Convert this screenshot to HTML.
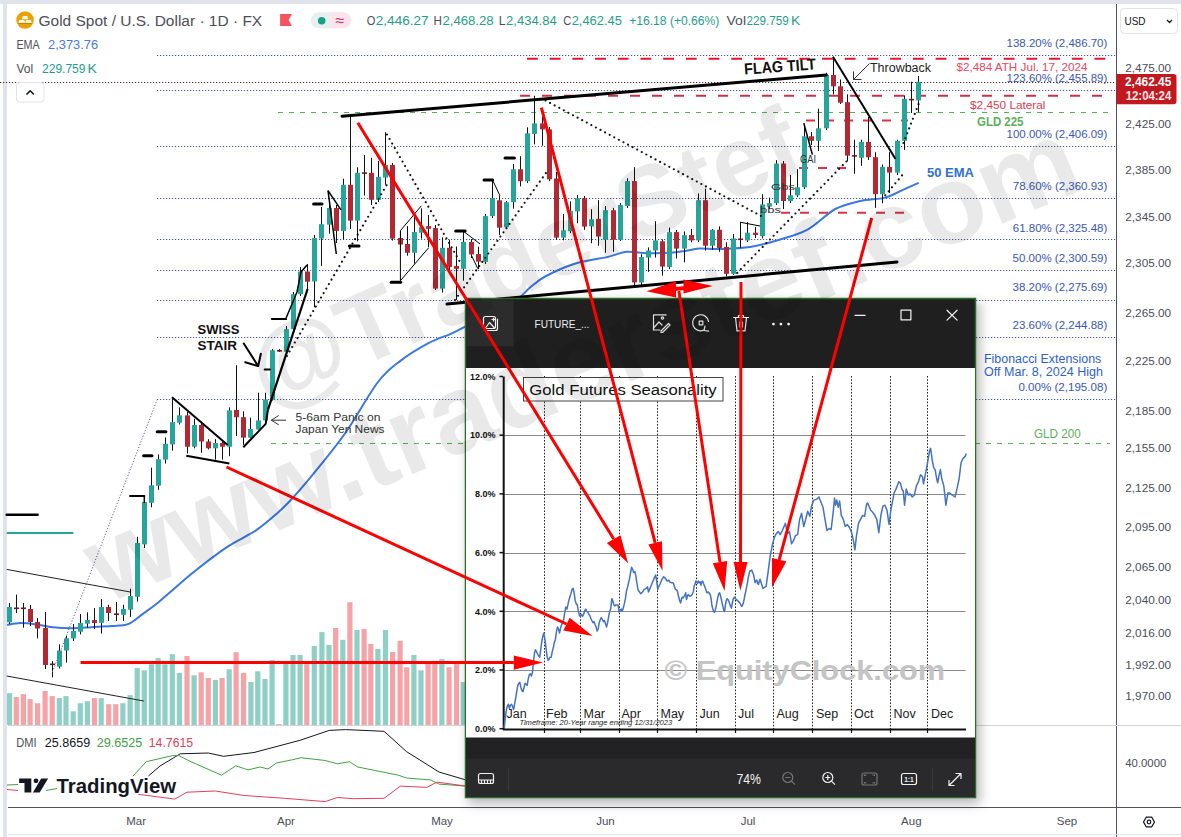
<!DOCTYPE html><html><head><meta charset="utf-8"><style>html,body{margin:0;padding:0;background:#fff;overflow:hidden}svg{display:block}text{font-family:"Liberation Sans", sans-serif}</style></head><body>
<svg width="1181" height="837" viewBox="0 0 1181 837">
<rect x="0" y="0" width="1181" height="837" fill="#fff"/>
<rect x="0" y="0" width="1181" height="4" fill="#e0e3eb"/>
<rect x="3" y="0" width="4" height="837" fill="#e0e3eb"/>
<line x1="157.0" y1="55.5" x2="1116.0" y2="55.5" stroke="#40569c" stroke-width="1" stroke-dasharray="1.2 1.8" />
<line x1="157.0" y1="90.5" x2="1116.0" y2="90.5" stroke="#40569c" stroke-width="1" stroke-dasharray="1.2 1.8" />
<line x1="157.0" y1="146.5" x2="1116.0" y2="146.5" stroke="#40569c" stroke-width="1" stroke-dasharray="1.2 1.8" />
<line x1="157.0" y1="198.5" x2="1116.0" y2="198.5" stroke="#40569c" stroke-width="1" stroke-dasharray="1.2 1.8" />
<line x1="157.0" y1="239.5" x2="1116.0" y2="239.5" stroke="#40569c" stroke-width="1" stroke-dasharray="1.2 1.8" />
<line x1="157.0" y1="270.5" x2="1116.0" y2="270.5" stroke="#40569c" stroke-width="1" stroke-dasharray="1.2 1.8" />
<line x1="157.0" y1="300.5" x2="1116.0" y2="300.5" stroke="#40569c" stroke-width="1" stroke-dasharray="1.2 1.8" />
<line x1="157.0" y1="337.5" x2="1116.0" y2="337.5" stroke="#40569c" stroke-width="1" stroke-dasharray="1.2 1.8" />
<line x1="157.0" y1="399.5" x2="1116.0" y2="399.5" stroke="#40569c" stroke-width="1" stroke-dasharray="1.2 1.8" />
<line x1="0.0" y1="82.5" x2="1116.0" y2="82.5" stroke="#3a2828" stroke-width="1" stroke-dasharray="1.2 1.8" />
<line x1="527.0" y1="58.8" x2="1110.0" y2="58.8" stroke="#e8142e" stroke-width="2" stroke-dasharray="10.8 11.9" />
<line x1="520.0" y1="95.7" x2="1110.0" y2="95.7" stroke="#c8324a" stroke-width="2" stroke-dasharray="10 12" />
<line x1="278.0" y1="112.5" x2="1110.0" y2="112.5" stroke="#5cad5c" stroke-width="1" stroke-dasharray="5 6" />
<line x1="271.0" y1="443.5" x2="1110.0" y2="443.5" stroke="#5cad5c" stroke-width="1" stroke-dasharray="5 6" />
<line x1="806.0" y1="120.4" x2="908.0" y2="120.4" stroke="#e03048" stroke-width="2" stroke-dasharray="9 10" />
<line x1="799.0" y1="168.0" x2="850.0" y2="168.0" stroke="#e03048" stroke-width="2" stroke-dasharray="9 10" />
<line x1="781.0" y1="212.8" x2="904.0" y2="212.8" stroke="#e03048" stroke-width="2" stroke-dasharray="9 10" />
<rect x="7.0" y="693.2" width="5.2" height="31.8" fill="#8fd0c6"/>
<rect x="13.7" y="697.1" width="5.2" height="27.9" fill="#f5a3a6"/>
<rect x="20.8" y="694.2" width="5.2" height="30.8" fill="#f5a3a6"/>
<rect x="27.5" y="699.1" width="5.2" height="25.9" fill="#f5a3a6"/>
<rect x="35.0" y="703.2" width="5.2" height="21.8" fill="#f5a3a6"/>
<rect x="42.5" y="691.0" width="5.2" height="34.0" fill="#f5a3a6"/>
<rect x="49.6" y="696.1" width="5.2" height="28.9" fill="#f5a3a6"/>
<rect x="56.7" y="698.1" width="5.2" height="26.9" fill="#8fd0c6"/>
<rect x="63.4" y="696.1" width="5.2" height="28.9" fill="#8fd0c6"/>
<rect x="70.6" y="711.3" width="5.2" height="13.7" fill="#8fd0c6"/>
<rect x="77.7" y="703.2" width="5.2" height="21.8" fill="#8fd0c6"/>
<rect x="84.8" y="701.2" width="5.2" height="23.8" fill="#8fd0c6"/>
<rect x="91.9" y="698.1" width="5.2" height="26.9" fill="#f5a3a6"/>
<rect x="98.6" y="698.1" width="5.2" height="26.9" fill="#8fd0c6"/>
<rect x="106.1" y="704.2" width="5.2" height="20.8" fill="#f5a3a6"/>
<rect x="113.2" y="704.2" width="5.2" height="20.8" fill="#f5a3a6"/>
<rect x="120.3" y="703.2" width="5.2" height="21.8" fill="#8fd0c6"/>
<rect x="127.5" y="695.1" width="5.2" height="29.9" fill="#8fd0c6"/>
<rect x="134.6" y="668.0" width="5.2" height="57.0" fill="#8fd0c6"/>
<rect x="141.7" y="670.3" width="5.2" height="54.7" fill="#8fd0c6"/>
<rect x="148.8" y="664.2" width="5.2" height="60.8" fill="#8fd0c6"/>
<rect x="155.5" y="658.1" width="5.2" height="66.9" fill="#8fd0c6"/>
<rect x="162.4" y="664.2" width="5.2" height="60.8" fill="#8fd0c6"/>
<rect x="169.7" y="654.2" width="5.2" height="70.8" fill="#8fd0c6"/>
<rect x="176.8" y="672.9" width="5.2" height="52.1" fill="#8fd0c6"/>
<rect x="184.4" y="656.0" width="5.2" height="69.0" fill="#f5a3a6"/>
<rect x="191.5" y="675.3" width="5.2" height="49.7" fill="#8fd0c6"/>
<rect x="198.6" y="672.3" width="5.2" height="52.7" fill="#f5a3a6"/>
<rect x="205.7" y="678.0" width="5.2" height="47.0" fill="#f5a3a6"/>
<rect x="212.8" y="680.0" width="5.2" height="45.0" fill="#8fd0c6"/>
<rect x="219.5" y="678.0" width="5.2" height="47.0" fill="#f5a3a6"/>
<rect x="226.6" y="669.3" width="5.2" height="55.7" fill="#8fd0c6"/>
<rect x="233.5" y="652.2" width="5.2" height="72.8" fill="#f5a3a6"/>
<rect x="241.0" y="672.9" width="5.2" height="52.1" fill="#f5a3a6"/>
<rect x="248.3" y="682.0" width="5.2" height="43.0" fill="#8fd0c6"/>
<rect x="255.2" y="671.3" width="5.2" height="53.7" fill="#8fd0c6"/>
<rect x="262.4" y="679.0" width="5.2" height="46.0" fill="#8fd0c6"/>
<rect x="269.5" y="660.1" width="5.2" height="64.9" fill="#8fd0c6"/>
<rect x="276.2" y="724.1" width="5.2" height="0.9" fill="#f5a3a6"/>
<rect x="283.3" y="663.2" width="5.2" height="61.8" fill="#8fd0c6"/>
<rect x="290.4" y="655.0" width="5.2" height="70.0" fill="#8fd0c6"/>
<rect x="297.5" y="655.0" width="5.2" height="70.0" fill="#8fd0c6"/>
<rect x="304.2" y="664.2" width="5.2" height="60.8" fill="#f5a3a6"/>
<rect x="311.7" y="645.9" width="5.2" height="79.1" fill="#8fd0c6"/>
<rect x="319.3" y="632.1" width="5.2" height="92.9" fill="#8fd0c6"/>
<rect x="326.4" y="644.9" width="5.2" height="80.1" fill="#8fd0c6"/>
<rect x="333.1" y="628.0" width="5.2" height="97.0" fill="#f5a3a6"/>
<rect x="340.2" y="639.8" width="5.2" height="85.2" fill="#8fd0c6"/>
<rect x="347.3" y="602.2" width="5.2" height="122.8" fill="#f5a3a6"/>
<rect x="354.4" y="630.0" width="5.2" height="95.0" fill="#8fd0c6"/>
<rect x="361.5" y="629.0" width="5.2" height="96.0" fill="#f5a3a6"/>
<rect x="368.2" y="643.9" width="5.2" height="81.1" fill="#f5a3a6"/>
<rect x="375.3" y="648.9" width="5.2" height="76.1" fill="#8fd0c6"/>
<rect x="382.9" y="630.0" width="5.2" height="95.0" fill="#8fd0c6"/>
<rect x="390.0" y="652.0" width="5.2" height="73.0" fill="#f5a3a6"/>
<rect x="397.5" y="640.8" width="5.2" height="84.2" fill="#f5a3a6"/>
<rect x="404.2" y="667.2" width="5.2" height="57.8" fill="#f5a3a6"/>
<rect x="411.3" y="655.0" width="5.2" height="70.0" fill="#8fd0c6"/>
<rect x="418.4" y="670.3" width="5.2" height="54.7" fill="#8fd0c6"/>
<rect x="425.5" y="663.6" width="5.2" height="61.4" fill="#f5a3a6"/>
<rect x="432.2" y="663.6" width="5.2" height="61.4" fill="#f5a3a6"/>
<rect x="439.3" y="659.1" width="5.2" height="65.9" fill="#8fd0c6"/>
<rect x="446.5" y="667.2" width="5.2" height="57.8" fill="#f5a3a6"/>
<rect x="454.0" y="663.6" width="5.2" height="61.4" fill="#f5a3a6"/>
<rect x="460.7" y="682.0" width="5.2" height="43.0" fill="#8fd0c6"/>
<path d="M7.1,625.0 C9.3,624.7 15.4,623.2 20.3,623.1 C25.2,623.0 31.2,623.8 36.6,624.5 C42.0,625.2 47.0,626.6 52.8,627.2 C58.5,627.8 64.7,628.2 71.1,628.2 C77.5,628.2 84.6,627.6 91.4,627.2 C98.2,626.8 105.7,626.5 111.8,626.0 C117.9,625.5 122.9,626.0 128.0,624.1 C133.1,622.2 137.1,618.0 142.2,614.4 C147.3,610.8 153.4,606.3 158.5,602.2 C163.6,598.1 166.6,595.2 172.7,590.0 C178.8,584.8 185.8,578.2 195.0,571.0 C204.2,563.8 217.4,553.5 227.6,546.7 C237.8,539.9 247.9,535.9 256.0,530.4 C264.1,524.9 270.3,519.4 276.4,514.0 C282.5,508.6 285.9,505.4 292.7,498.0 C299.5,490.6 308.2,480.3 317.0,469.4 C325.8,458.5 335.3,447.4 345.5,432.8 C355.7,418.2 368.8,394.0 378.0,382.0 C387.2,370.0 392.1,367.2 400.7,360.6 C409.3,354.1 421.0,347.2 429.4,342.7 C437.8,338.2 444.9,336.5 450.9,333.8 C456.9,331.1 458.7,330.1 465.2,326.6 C471.7,323.1 481.5,317.4 490.0,313.0 C498.5,308.6 509.7,304.2 516.4,300.0 C523.1,295.8 525.2,291.4 530.0,287.5 C534.8,283.6 537.9,280.4 545.2,276.5 C552.5,272.6 563.4,267.3 574.0,264.0 C584.6,260.7 600.4,258.6 609.1,256.6 C617.8,254.6 619.9,252.4 626.3,251.8 C632.7,251.2 640.1,253.0 647.4,253.2 C654.7,253.4 663.9,253.2 670.3,252.8 C676.7,252.4 680.8,251.6 685.6,250.9 C690.4,250.2 693.3,248.9 699.0,248.6 C704.7,248.3 711.5,249.3 720.0,249.0 C728.5,248.7 740.2,248.5 750.0,247.0 C759.8,245.5 768.9,242.9 778.6,240.0 C788.3,237.1 798.5,234.5 808.0,229.3 C817.5,224.1 826.6,213.7 835.3,209.0 C844.0,204.3 852.0,202.9 860.3,201.0 C868.6,199.1 878.1,199.5 885.3,197.6 C892.5,195.7 897.9,192.1 903.5,189.6 C909.1,187.1 916.2,183.9 918.7,182.8" fill="none" stroke="#3a78e0" stroke-width="2" stroke-linejoin="round"/>
<line x1="9.5" y1="603.0" x2="9.5" y2="624.0" stroke="#111" stroke-width="1" />
<rect x="7.0" y="607.0" width="5" height="15.3" fill="#26a69a"/>
<line x1="16.5" y1="594.6" x2="16.5" y2="613.0" stroke="#111" stroke-width="1" />
<rect x="14.0" y="607.5" width="5" height="1.6" fill="#6a1a20"/>
<line x1="23.5" y1="603.0" x2="23.5" y2="627.7" stroke="#111" stroke-width="1" />
<rect x="21.0" y="607.5" width="5" height="1.6" fill="#6a1a20"/>
<line x1="30.5" y1="605.0" x2="30.5" y2="626.0" stroke="#111" stroke-width="1" />
<rect x="28.0" y="609.0" width="5" height="13.0" fill="#b22833"/>
<line x1="37.5" y1="618.0" x2="37.5" y2="638.4" stroke="#111" stroke-width="1" />
<rect x="35.0" y="622.0" width="5" height="6.5" fill="#b22833"/>
<line x1="45.5" y1="612.0" x2="45.5" y2="669.0" stroke="#111" stroke-width="1" />
<rect x="43.0" y="628.0" width="5" height="37.0" fill="#b22833"/>
<line x1="52.5" y1="661.0" x2="52.5" y2="677.4" stroke="#111" stroke-width="1" />
<rect x="50.0" y="663.5" width="5" height="1.6" fill="#6a1a20"/>
<line x1="59.5" y1="644.4" x2="59.5" y2="668.5" stroke="#111" stroke-width="1" />
<rect x="57.0" y="650.5" width="5" height="16.2" fill="#26a69a"/>
<line x1="66.5" y1="635.8" x2="66.5" y2="662.6" stroke="#111" stroke-width="1" />
<rect x="64.0" y="638.4" width="5" height="12.1" fill="#26a69a"/>
<line x1="73.5" y1="624.0" x2="73.5" y2="641.0" stroke="#111" stroke-width="1" />
<rect x="71.0" y="631.0" width="5" height="7.4" fill="#26a69a"/>
<line x1="80.5" y1="614.0" x2="80.5" y2="634.4" stroke="#111" stroke-width="1" />
<rect x="78.0" y="623.0" width="5" height="8.7" fill="#26a69a"/>
<line x1="87.5" y1="612.4" x2="87.5" y2="627.7" stroke="#111" stroke-width="1" />
<rect x="85.0" y="620.0" width="5" height="3.7" fill="#26a69a"/>
<line x1="94.5" y1="608.0" x2="94.5" y2="629.0" stroke="#111" stroke-width="1" />
<rect x="92.0" y="620.0" width="5" height="3.0" fill="#b22833"/>
<line x1="101.5" y1="599.0" x2="101.5" y2="633.6" stroke="#111" stroke-width="1" />
<rect x="99.0" y="607.0" width="5" height="15.8" fill="#26a69a"/>
<line x1="108.5" y1="604.8" x2="108.5" y2="621.0" stroke="#111" stroke-width="1" />
<rect x="106.0" y="607.0" width="5" height="6.0" fill="#b22833"/>
<line x1="116.5" y1="602.0" x2="116.5" y2="621.0" stroke="#111" stroke-width="1" />
<rect x="114.0" y="613.4" width="5" height="1.6" fill="#6a1a20"/>
<line x1="123.5" y1="604.8" x2="123.5" y2="621.0" stroke="#111" stroke-width="1" />
<rect x="121.0" y="609.0" width="5" height="5.8" fill="#26a69a"/>
<line x1="130.5" y1="588.7" x2="130.5" y2="617.0" stroke="#111" stroke-width="1" />
<rect x="128.0" y="596.0" width="5" height="13.7" fill="#26a69a"/>
<line x1="137.5" y1="536.8" x2="137.5" y2="601.6" stroke="#111" stroke-width="1" />
<rect x="135.0" y="543.0" width="5" height="53.8" fill="#26a69a"/>
<line x1="144.5" y1="501.0" x2="144.5" y2="548.0" stroke="#111" stroke-width="1" />
<rect x="142.0" y="502.0" width="5" height="42.4" fill="#26a69a"/>
<line x1="151.5" y1="467.6" x2="151.5" y2="507.3" stroke="#111" stroke-width="1" />
<rect x="149.0" y="485.3" width="5" height="17.5" fill="#26a69a"/>
<line x1="158.5" y1="454.4" x2="158.5" y2="489.8" stroke="#111" stroke-width="1" />
<rect x="156.0" y="459.2" width="5" height="26.5" fill="#26a69a"/>
<line x1="165.5" y1="437.4" x2="165.5" y2="463.5" stroke="#111" stroke-width="1" />
<rect x="163.0" y="443.8" width="5" height="15.8" fill="#26a69a"/>
<line x1="172.5" y1="397.2" x2="172.5" y2="450.6" stroke="#111" stroke-width="1" />
<rect x="170.0" y="422.2" width="5" height="22.2" fill="#26a69a"/>
<line x1="179.5" y1="407.4" x2="179.5" y2="424.5" stroke="#111" stroke-width="1" />
<rect x="177.0" y="415.4" width="5" height="7.3" fill="#26a69a"/>
<line x1="187.5" y1="412.0" x2="187.5" y2="453.5" stroke="#111" stroke-width="1" />
<rect x="185.0" y="415.4" width="5" height="31.3" fill="#b22833"/>
<line x1="194.5" y1="418.8" x2="194.5" y2="448.3" stroke="#111" stroke-width="1" />
<rect x="192.0" y="425.0" width="5" height="21.7" fill="#26a69a"/>
<line x1="201.5" y1="423.3" x2="201.5" y2="452.8" stroke="#111" stroke-width="1" />
<rect x="199.0" y="425.0" width="5" height="16.5" fill="#b22833"/>
<line x1="208.5" y1="439.2" x2="208.5" y2="449.4" stroke="#111" stroke-width="1" />
<rect x="206.0" y="441.5" width="5" height="6.8" fill="#b22833"/>
<line x1="215.5" y1="439.2" x2="215.5" y2="459.6" stroke="#111" stroke-width="1" />
<rect x="213.0" y="443.0" width="5" height="5.3" fill="#26a69a"/>
<line x1="222.5" y1="441.5" x2="222.5" y2="459.6" stroke="#111" stroke-width="1" />
<rect x="220.0" y="443.0" width="5" height="3.7" fill="#b22833"/>
<line x1="229.5" y1="407.4" x2="229.5" y2="456.2" stroke="#111" stroke-width="1" />
<rect x="227.0" y="410.4" width="5" height="36.3" fill="#26a69a"/>
<line x1="236.5" y1="365.2" x2="236.5" y2="436.0" stroke="#111" stroke-width="1" />
<rect x="234.0" y="410.0" width="5" height="7.3" fill="#b22833"/>
<line x1="243.5" y1="411.3" x2="243.5" y2="444.9" stroke="#111" stroke-width="1" />
<rect x="241.0" y="417.2" width="5" height="20.4" fill="#b22833"/>
<line x1="250.5" y1="417.7" x2="250.5" y2="438.0" stroke="#111" stroke-width="1" />
<rect x="248.0" y="429.0" width="5" height="8.6" fill="#26a69a"/>
<line x1="258.5" y1="392.7" x2="258.5" y2="429.5" stroke="#111" stroke-width="1" />
<rect x="256.0" y="420.4" width="5" height="9.1" fill="#26a69a"/>
<line x1="265.5" y1="392.7" x2="265.5" y2="423.3" stroke="#111" stroke-width="1" />
<rect x="263.0" y="399.5" width="5" height="20.9" fill="#26a69a"/>
<line x1="272.5" y1="349.0" x2="272.5" y2="400.5" stroke="#111" stroke-width="1" />
<rect x="270.0" y="350.3" width="5" height="49.4" fill="#26a69a"/>
<line x1="279.5" y1="349.0" x2="279.5" y2="352.0" stroke="#111" stroke-width="1" />
<rect x="277.0" y="350.0" width="5" height="1.6" fill="#6a1a20"/>
<line x1="286.5" y1="326.0" x2="286.5" y2="356.0" stroke="#111" stroke-width="1" />
<rect x="284.0" y="329.2" width="5" height="22.7" fill="#26a69a"/>
<line x1="293.5" y1="292.0" x2="293.5" y2="331.0" stroke="#111" stroke-width="1" />
<rect x="291.0" y="294.2" width="5" height="35.0" fill="#26a69a"/>
<line x1="300.5" y1="267.0" x2="300.5" y2="296.0" stroke="#111" stroke-width="1" />
<rect x="298.0" y="271.5" width="5" height="22.7" fill="#26a69a"/>
<line x1="307.5" y1="264.0" x2="307.5" y2="290.0" stroke="#111" stroke-width="1" />
<rect x="305.0" y="271.5" width="5" height="10.2" fill="#b22833"/>
<line x1="314.5" y1="235.0" x2="314.5" y2="307.2" stroke="#111" stroke-width="1" />
<rect x="312.0" y="238.0" width="5" height="43.5" fill="#26a69a"/>
<line x1="321.5" y1="207.0" x2="321.5" y2="266.0" stroke="#111" stroke-width="1" />
<rect x="319.0" y="224.2" width="5" height="14.3" fill="#26a69a"/>
<line x1="329.5" y1="201.5" x2="329.5" y2="233.7" stroke="#111" stroke-width="1" />
<rect x="327.0" y="208.0" width="5" height="16.7" fill="#26a69a"/>
<line x1="336.5" y1="205.0" x2="336.5" y2="243.0" stroke="#111" stroke-width="1" />
<rect x="334.0" y="208.0" width="5" height="22.9" fill="#b22833"/>
<line x1="343.5" y1="178.8" x2="343.5" y2="239.7" stroke="#111" stroke-width="1" />
<rect x="341.0" y="184.8" width="5" height="46.1" fill="#26a69a"/>
<line x1="350.5" y1="116.7" x2="350.5" y2="229.0" stroke="#111" stroke-width="1" />
<rect x="348.0" y="184.8" width="5" height="35.8" fill="#b22833"/>
<line x1="357.5" y1="167.3" x2="357.5" y2="241.4" stroke="#111" stroke-width="1" />
<rect x="355.0" y="172.8" width="5" height="47.8" fill="#26a69a"/>
<line x1="364.5" y1="155.0" x2="364.5" y2="195.5" stroke="#111" stroke-width="1" />
<rect x="362.0" y="172.3" width="5" height="1.6" fill="#6a1a20"/>
<line x1="371.5" y1="157.8" x2="371.5" y2="205.0" stroke="#111" stroke-width="1" />
<rect x="369.0" y="172.8" width="5" height="27.0" fill="#b22833"/>
<line x1="378.5" y1="161.0" x2="378.5" y2="202.0" stroke="#111" stroke-width="1" />
<rect x="376.0" y="176.9" width="5" height="22.9" fill="#26a69a"/>
<line x1="385.5" y1="132.2" x2="385.5" y2="184.8" stroke="#111" stroke-width="1" />
<rect x="383.0" y="165.0" width="5" height="12.6" fill="#26a69a"/>
<line x1="392.5" y1="163.0" x2="392.5" y2="240.6" stroke="#111" stroke-width="1" />
<rect x="390.0" y="165.0" width="5" height="73.6" fill="#b22833"/>
<line x1="400.5" y1="230.7" x2="400.5" y2="250.0" stroke="#111" stroke-width="1" />
<rect x="398.0" y="238.0" width="5" height="6.5" fill="#b22833"/>
<line x1="407.5" y1="226.1" x2="407.5" y2="255.7" stroke="#111" stroke-width="1" />
<rect x="405.0" y="243.9" width="5" height="8.9" fill="#b22833"/>
<line x1="414.5" y1="217.0" x2="414.5" y2="263.6" stroke="#111" stroke-width="1" />
<rect x="412.0" y="232.0" width="5" height="20.8" fill="#26a69a"/>
<line x1="421.5" y1="208.4" x2="421.5" y2="238.6" stroke="#111" stroke-width="1" />
<rect x="419.0" y="227.2" width="5" height="5.5" fill="#26a69a"/>
<line x1="428.5" y1="215.0" x2="428.5" y2="247.2" stroke="#111" stroke-width="1" />
<rect x="426.0" y="226.1" width="5" height="2.7" fill="#b22833"/>
<line x1="435.5" y1="225.0" x2="435.5" y2="290.0" stroke="#111" stroke-width="1" />
<rect x="433.0" y="228.1" width="5" height="60.5" fill="#b22833"/>
<line x1="442.5" y1="237.3" x2="442.5" y2="292.5" stroke="#111" stroke-width="1" />
<rect x="440.0" y="247.8" width="5" height="40.8" fill="#26a69a"/>
<line x1="449.5" y1="239.7" x2="449.5" y2="270.0" stroke="#111" stroke-width="1" />
<rect x="447.0" y="247.8" width="5" height="19.1" fill="#b22833"/>
<line x1="456.5" y1="246.5" x2="456.5" y2="300.0" stroke="#111" stroke-width="1" />
<rect x="454.0" y="266.0" width="5" height="2.8" fill="#b22833"/>
<line x1="463.5" y1="232.0" x2="463.5" y2="280.7" stroke="#111" stroke-width="1" />
<rect x="461.0" y="241.9" width="5" height="26.9" fill="#26a69a"/>
<line x1="471.5" y1="239.0" x2="471.5" y2="258.0" stroke="#111" stroke-width="1" />
<rect x="469.0" y="241.9" width="5" height="12.5" fill="#b22833"/>
<line x1="478.5" y1="246.8" x2="478.5" y2="269.2" stroke="#111" stroke-width="1" />
<rect x="476.0" y="254.1" width="5" height="7.5" fill="#b22833"/>
<line x1="485.5" y1="214.0" x2="485.5" y2="264.0" stroke="#111" stroke-width="1" />
<rect x="483.0" y="216.1" width="5" height="45.7" fill="#26a69a"/>
<line x1="492.5" y1="179.8" x2="492.5" y2="218.0" stroke="#111" stroke-width="1" />
<rect x="490.0" y="198.2" width="5" height="17.9" fill="#26a69a"/>
<line x1="499.5" y1="195.6" x2="499.5" y2="235.0" stroke="#111" stroke-width="1" />
<rect x="497.0" y="200.3" width="5" height="27.4" fill="#b22833"/>
<line x1="506.5" y1="201.0" x2="506.5" y2="229.0" stroke="#111" stroke-width="1" />
<rect x="504.0" y="202.2" width="5" height="24.9" fill="#26a69a"/>
<line x1="513.5" y1="164.0" x2="513.5" y2="208.7" stroke="#111" stroke-width="1" />
<rect x="511.0" y="169.3" width="5" height="32.9" fill="#26a69a"/>
<line x1="520.5" y1="156.2" x2="520.5" y2="186.4" stroke="#111" stroke-width="1" />
<rect x="518.0" y="169.3" width="5" height="11.9" fill="#b22833"/>
<line x1="527.5" y1="127.3" x2="527.5" y2="183.0" stroke="#111" stroke-width="1" />
<rect x="525.0" y="133.3" width="5" height="47.9" fill="#26a69a"/>
<line x1="534.5" y1="95.8" x2="534.5" y2="144.4" stroke="#111" stroke-width="1" />
<rect x="532.0" y="123.4" width="5" height="10.5" fill="#26a69a"/>
<line x1="542.5" y1="116.8" x2="542.5" y2="145.7" stroke="#111" stroke-width="1" />
<rect x="540.0" y="123.4" width="5" height="6.0" fill="#b22833"/>
<line x1="549.5" y1="127.0" x2="549.5" y2="181.2" stroke="#111" stroke-width="1" />
<rect x="547.0" y="129.4" width="5" height="49.9" fill="#b22833"/>
<line x1="556.5" y1="172.0" x2="556.5" y2="240.0" stroke="#111" stroke-width="1" />
<rect x="554.0" y="178.5" width="5" height="59.1" fill="#b22833"/>
<line x1="563.5" y1="214.0" x2="563.5" y2="240.3" stroke="#111" stroke-width="1" />
<rect x="561.0" y="230.3" width="5" height="7.3" fill="#26a69a"/>
<line x1="570.5" y1="201.4" x2="570.5" y2="233.0" stroke="#111" stroke-width="1" />
<rect x="568.0" y="210.8" width="5" height="20.3" fill="#26a69a"/>
<line x1="577.5" y1="195.0" x2="577.5" y2="223.2" stroke="#111" stroke-width="1" />
<rect x="575.0" y="198.2" width="5" height="13.2" fill="#26a69a"/>
<line x1="584.5" y1="196.0" x2="584.5" y2="229.8" stroke="#111" stroke-width="1" />
<rect x="582.0" y="198.2" width="5" height="28.4" fill="#b22833"/>
<line x1="591.5" y1="209.2" x2="591.5" y2="243.2" stroke="#111" stroke-width="1" />
<rect x="589.0" y="219.3" width="5" height="7.1" fill="#26a69a"/>
<line x1="598.5" y1="200.2" x2="598.5" y2="245.7" stroke="#111" stroke-width="1" />
<rect x="596.0" y="218.8" width="5" height="17.7" fill="#b22833"/>
<line x1="605.5" y1="206.0" x2="605.5" y2="252.8" stroke="#111" stroke-width="1" />
<rect x="603.0" y="210.2" width="5" height="29.6" fill="#26a69a"/>
<line x1="613.5" y1="207.9" x2="613.5" y2="251.8" stroke="#111" stroke-width="1" />
<rect x="611.0" y="210.2" width="5" height="29.6" fill="#b22833"/>
<line x1="620.5" y1="203.0" x2="620.5" y2="241.0" stroke="#111" stroke-width="1" />
<rect x="618.0" y="205.0" width="5" height="34.8" fill="#26a69a"/>
<line x1="627.5" y1="178.2" x2="627.5" y2="208.0" stroke="#111" stroke-width="1" />
<rect x="625.0" y="181.1" width="5" height="24.9" fill="#26a69a"/>
<line x1="634.5" y1="167.1" x2="634.5" y2="285.3" stroke="#111" stroke-width="1" />
<rect x="632.0" y="181.1" width="5" height="101.3" fill="#b22833"/>
<line x1="641.5" y1="254.3" x2="641.5" y2="285.3" stroke="#111" stroke-width="1" />
<rect x="639.0" y="257.0" width="5" height="25.4" fill="#26a69a"/>
<line x1="648.5" y1="247.4" x2="648.5" y2="271.9" stroke="#111" stroke-width="1" />
<rect x="646.0" y="250.5" width="5" height="7.1" fill="#26a69a"/>
<line x1="655.5" y1="221.2" x2="655.5" y2="257.6" stroke="#111" stroke-width="1" />
<rect x="653.0" y="240.4" width="5" height="10.1" fill="#26a69a"/>
<line x1="662.5" y1="239.4" x2="662.5" y2="275.7" stroke="#111" stroke-width="1" />
<rect x="660.0" y="241.3" width="5" height="25.3" fill="#b22833"/>
<line x1="669.5" y1="227.6" x2="669.5" y2="269.0" stroke="#111" stroke-width="1" />
<rect x="667.0" y="232.1" width="5" height="35.0" fill="#26a69a"/>
<line x1="676.5" y1="230.0" x2="676.5" y2="258.5" stroke="#111" stroke-width="1" />
<rect x="674.0" y="232.1" width="5" height="16.5" fill="#b22833"/>
<line x1="684.5" y1="231.4" x2="684.5" y2="262.3" stroke="#111" stroke-width="1" />
<rect x="682.0" y="235.2" width="5" height="13.4" fill="#26a69a"/>
<line x1="691.5" y1="228.9" x2="691.5" y2="242.3" stroke="#111" stroke-width="1" />
<rect x="689.0" y="235.0" width="5" height="5.4" fill="#b22833"/>
<line x1="698.5" y1="193.5" x2="698.5" y2="242.0" stroke="#111" stroke-width="1" />
<rect x="696.0" y="200.2" width="5" height="40.2" fill="#26a69a"/>
<line x1="705.5" y1="188.7" x2="705.5" y2="250.5" stroke="#111" stroke-width="1" />
<rect x="703.0" y="200.2" width="5" height="45.5" fill="#b22833"/>
<line x1="712.5" y1="228.9" x2="712.5" y2="249.9" stroke="#111" stroke-width="1" />
<rect x="710.0" y="229.8" width="5" height="15.9" fill="#26a69a"/>
<line x1="719.5" y1="226.4" x2="719.5" y2="251.8" stroke="#111" stroke-width="1" />
<rect x="717.0" y="229.8" width="5" height="18.2" fill="#b22833"/>
<line x1="726.5" y1="242.3" x2="726.5" y2="276.1" stroke="#111" stroke-width="1" />
<rect x="724.0" y="247.0" width="5" height="26.8" fill="#b22833"/>
<line x1="733.5" y1="234.0" x2="733.5" y2="274.8" stroke="#111" stroke-width="1" />
<rect x="731.0" y="238.5" width="5" height="35.3" fill="#26a69a"/>
<line x1="740.5" y1="222.2" x2="740.5" y2="248.0" stroke="#111" stroke-width="1" />
<rect x="738.0" y="238.5" width="5" height="1.6" fill="#6a1a20"/>
<line x1="747.5" y1="222.0" x2="747.5" y2="242.0" stroke="#111" stroke-width="1" />
<rect x="745.0" y="232.7" width="5" height="7.7" fill="#26a69a"/>
<line x1="755.5" y1="227.0" x2="755.5" y2="238.0" stroke="#111" stroke-width="1" />
<rect x="753.0" y="232.7" width="5" height="2.3" fill="#b22833"/>
<line x1="762.5" y1="194.2" x2="762.5" y2="238.4" stroke="#111" stroke-width="1" />
<rect x="760.0" y="204.4" width="5" height="31.8" fill="#26a69a"/>
<line x1="769.5" y1="197.6" x2="769.5" y2="209.0" stroke="#111" stroke-width="1" />
<rect x="767.0" y="203.2" width="5" height="3.4" fill="#26a69a"/>
<line x1="776.5" y1="160.1" x2="776.5" y2="205.0" stroke="#111" stroke-width="1" />
<rect x="774.0" y="163.5" width="5" height="39.7" fill="#26a69a"/>
<line x1="783.5" y1="161.0" x2="783.5" y2="209.0" stroke="#111" stroke-width="1" />
<rect x="781.0" y="163.5" width="5" height="37.5" fill="#b22833"/>
<line x1="790.5" y1="174.9" x2="790.5" y2="203.0" stroke="#111" stroke-width="1" />
<rect x="788.0" y="195.3" width="5" height="5.7" fill="#26a69a"/>
<line x1="797.5" y1="169.2" x2="797.5" y2="197.0" stroke="#111" stroke-width="1" />
<rect x="795.0" y="187.3" width="5" height="8.0" fill="#26a69a"/>
<line x1="804.5" y1="123.8" x2="804.5" y2="189.0" stroke="#111" stroke-width="1" />
<rect x="802.0" y="136.3" width="5" height="51.0" fill="#26a69a"/>
<line x1="811.5" y1="132.0" x2="811.5" y2="145.0" stroke="#111" stroke-width="1" />
<rect x="809.0" y="136.3" width="5" height="4.5" fill="#b22833"/>
<line x1="818.5" y1="108.6" x2="818.5" y2="151.0" stroke="#111" stroke-width="1" />
<rect x="816.0" y="128.3" width="5" height="12.5" fill="#26a69a"/>
<line x1="826.5" y1="72.7" x2="826.5" y2="130.0" stroke="#111" stroke-width="1" />
<rect x="824.0" y="75.0" width="5" height="53.3" fill="#26a69a"/>
<line x1="833.5" y1="56.8" x2="833.5" y2="94.3" stroke="#111" stroke-width="1" />
<rect x="831.0" y="75.0" width="5" height="11.3" fill="#b22833"/>
<line x1="840.5" y1="79.5" x2="840.5" y2="104.0" stroke="#111" stroke-width="1" />
<rect x="838.0" y="86.3" width="5" height="16.4" fill="#b22833"/>
<line x1="847.5" y1="94.3" x2="847.5" y2="161.2" stroke="#111" stroke-width="1" />
<rect x="845.0" y="102.2" width="5" height="53.4" fill="#b22833"/>
<line x1="854.5" y1="139.7" x2="854.5" y2="173.7" stroke="#111" stroke-width="1" />
<rect x="852.0" y="155.1" width="5" height="1.6" fill="#6a1a20"/>
<line x1="861.5" y1="139.7" x2="861.5" y2="165.8" stroke="#111" stroke-width="1" />
<rect x="859.0" y="141.9" width="5" height="15.9" fill="#26a69a"/>
<line x1="868.5" y1="117.0" x2="868.5" y2="160.0" stroke="#111" stroke-width="1" />
<rect x="866.0" y="141.9" width="5" height="15.3" fill="#b22833"/>
<line x1="875.5" y1="152.2" x2="875.5" y2="207.8" stroke="#111" stroke-width="1" />
<rect x="873.0" y="157.2" width="5" height="37.0" fill="#b22833"/>
<line x1="882.5" y1="164.6" x2="882.5" y2="203.2" stroke="#111" stroke-width="1" />
<rect x="880.0" y="166.9" width="5" height="27.3" fill="#26a69a"/>
<line x1="889.5" y1="152.2" x2="889.5" y2="193.0" stroke="#111" stroke-width="1" />
<rect x="887.0" y="166.9" width="5" height="5.7" fill="#b22833"/>
<line x1="897.5" y1="139.7" x2="897.5" y2="175.0" stroke="#111" stroke-width="1" />
<rect x="895.0" y="140.8" width="5" height="31.8" fill="#26a69a"/>
<line x1="904.5" y1="95.4" x2="904.5" y2="149.9" stroke="#111" stroke-width="1" />
<rect x="902.0" y="98.8" width="5" height="42.0" fill="#26a69a"/>
<line x1="911.5" y1="81.8" x2="911.5" y2="113.0" stroke="#111" stroke-width="1" />
<rect x="909.0" y="98.8" width="5" height="1.6" fill="#6a1a20"/>
<line x1="918.5" y1="76.1" x2="918.5" y2="112.4" stroke="#111" stroke-width="1" />
<rect x="916.0" y="81.8" width="5" height="18.6" fill="#26a69a"/>
<line x1="52.4" y1="672.0" x2="157.2" y2="399.5" stroke="#5a6890" stroke-width="1" stroke-dasharray="1.2 1.8" />
<line x1="287.0" y1="356.0" x2="389.0" y2="181.0" stroke="#111" stroke-width="2.2" stroke-linecap="round" stroke-dasharray="0 5.2"/>
<line x1="387.0" y1="134.5" x2="460.0" y2="262.0" stroke="#111" stroke-width="2.2" stroke-linecap="round" stroke-dasharray="0 5.2"/>
<line x1="455.0" y1="300.0" x2="547.7" y2="170.6" stroke="#111" stroke-width="2.2" stroke-linecap="round" stroke-dasharray="0 5.2"/>
<line x1="545.5" y1="100.5" x2="763.0" y2="217.0" stroke="#111" stroke-width="2.2" stroke-linecap="round" stroke-dasharray="0 5.2"/>
<line x1="737.2" y1="272.9" x2="846.7" y2="161.2" stroke="#111" stroke-width="2.2" stroke-linecap="round" stroke-dasharray="0 5.2"/>
<line x1="885.3" y1="195.3" x2="903.5" y2="173.7" stroke="#111" stroke-width="2.2" stroke-linecap="round" stroke-dasharray="0 5.2"/>
<line x1="903.5" y1="143.0" x2="919.3" y2="102.2" stroke="#111" stroke-width="2.2" stroke-linecap="round" stroke-dasharray="0 5.2"/>
<line x1="342.0" y1="116.2" x2="826.3" y2="75.0" stroke="#000" stroke-width="3" stroke-linecap="round"/>
<line x1="447.0" y1="304.0" x2="897.0" y2="262.0" stroke="#000" stroke-width="3" stroke-linecap="round"/>
<line x1="833.0" y1="56.8" x2="895.5" y2="159.0" stroke="#000" stroke-width="2" />
<line x1="172.0" y1="397.2" x2="227.6" y2="444.9" stroke="#000" stroke-width="2" />
<line x1="186.3" y1="455.8" x2="229.4" y2="463.5" stroke="#000" stroke-width="2" />
<polyline points="243.3,447.2 265.7,423.9 268.0,409.7" stroke="#000" stroke-width="2" fill="none" stroke-linejoin="round" />
<line x1="268.0" y1="409.7" x2="307.6" y2="289.0" stroke="#000" stroke-width="2.2" />
<polyline points="286.1,318.0 292.0,304.0 297.0,292.0 301.0,272.0 307.0,265.0" stroke="#000" stroke-width="1.5" fill="none" stroke-linejoin="round" />
<line x1="143.6" y1="455.8" x2="152.0" y2="455.8" stroke="#000" stroke-width="3" stroke-linecap="round"/>
<line x1="157.2" y1="431.7" x2="165.9" y2="431.7" stroke="#000" stroke-width="3" stroke-linecap="round"/>
<line x1="130.0" y1="496.0" x2="144.3" y2="496.0" stroke="#000" stroke-width="2" stroke-linecap="round"/>
<line x1="6.7" y1="514.8" x2="37.6" y2="514.8" stroke="#000" stroke-width="2.5" stroke-linecap="round"/>
<line x1="271.8" y1="319.0" x2="286.1" y2="319.0" stroke="#000" stroke-width="2" stroke-linecap="round"/>
<line x1="264.7" y1="369.5" x2="270.0" y2="369.5" stroke="#000" stroke-width="2" stroke-linecap="round"/>
<line x1="313.6" y1="203.9" x2="322.0" y2="203.9" stroke="#000" stroke-width="3" stroke-linecap="round"/>
<line x1="349.4" y1="246.1" x2="359.0" y2="246.1" stroke="#000" stroke-width="3" stroke-linecap="round"/>
<line x1="391.2" y1="282.2" x2="400.7" y2="282.2" stroke="#000" stroke-width="3" stroke-linecap="round"/>
<line x1="455.7" y1="231.0" x2="465.2" y2="231.0" stroke="#000" stroke-width="3" stroke-linecap="round"/>
<line x1="484.0" y1="180.1" x2="492.6" y2="180.1" stroke="#000" stroke-width="3" stroke-linecap="round"/>
<line x1="505.0" y1="158.0" x2="514.4" y2="158.0" stroke="#000" stroke-width="3" stroke-linecap="round"/>
<line x1="144.3" y1="496.0" x2="144.3" y2="503.0" stroke="#000" stroke-width="1.5" />
<polyline points="421.4,205.8 400.4,230.7 400.4,280.7 428.6,247.8" stroke="#000" stroke-width="1" fill="none" stroke-linejoin="round" />
<line x1="464.1" y1="231.8" x2="480.0" y2="243.9" stroke="#000" stroke-width="1" />
<line x1="471.6" y1="255.7" x2="477.9" y2="268.8" stroke="#000" stroke-width="1" />
<line x1="328.0" y1="190.7" x2="341.0" y2="209.9" stroke="#000" stroke-width="1.5" />
<line x1="328.0" y1="190.7" x2="336.3" y2="254.0" stroke="#000" stroke-width="1.5" />
<line x1="492.6" y1="180.1" x2="499.9" y2="195.6" stroke="#000" stroke-width="1" />
<line x1="740.0" y1="222.2" x2="760.0" y2="226.0" stroke="#000" stroke-width="1" />
<line x1="803.8" y1="123.1" x2="812.4" y2="154.6" stroke="#000" stroke-width="1.5" />
<line x1="6.7" y1="569.4" x2="130.4" y2="592.0" stroke="#222" stroke-width="1" />
<line x1="6.7" y1="676.0" x2="143.8" y2="701.0" stroke="#222" stroke-width="1" />
<line x1="6.7" y1="533.0" x2="73.4" y2="533.0" stroke="#26a69a" stroke-width="2" />
<text x="744.0" y="72.0" font-size="16" fill="#111" text-anchor="start" font-weight="bold" textLength="72.0" lengthAdjust="spacingAndGlyphs" transform="rotate(-4 780 66)">FLAG TILT</text>
<text x="870.0" y="72.0" font-size="12" fill="#222" text-anchor="start" font-weight="normal" textLength="61.0" lengthAdjust="spacingAndGlyphs" >Throwback</text>
<polyline points="869.4,63.6 853.5,79.5" stroke="#333" stroke-width="1" fill="none" stroke-linejoin="round" />
<polyline points="853.5,71.5 853.5,79.5 861.5,79.5" stroke="#333" stroke-width="1" fill="none" stroke-linejoin="round" />
<text x="197.5" y="334.0" font-size="13.5" fill="#111" text-anchor="start" font-weight="bold" textLength="42.0" lengthAdjust="spacingAndGlyphs" >SWISS</text>
<text x="197.5" y="350.0" font-size="13.5" fill="#111" text-anchor="start" font-weight="bold" textLength="39.5" lengthAdjust="spacingAndGlyphs" >STAIR</text>
<line x1="243.3" y1="342.8" x2="258.2" y2="366.1" stroke="#000" stroke-width="2" />
<polyline points="244.5,362.0 258.2,366.1 261.0,353.0" stroke="#000" stroke-width="2" fill="none" stroke-linejoin="round" />
<text x="295.5" y="421.0" font-size="11.5" fill="#333" text-anchor="start" font-weight="normal" textLength="85.0" lengthAdjust="spacingAndGlyphs" >5-6am Panic on</text>
<text x="295.5" y="432.5" font-size="11.5" fill="#333" text-anchor="start" font-weight="normal" textLength="89.0" lengthAdjust="spacingAndGlyphs" >Japan Yen News</text>
<polyline points="278.7,415.5 271.3,420.2 278.7,424.8" stroke="#333" stroke-width="1" fill="none" stroke-linejoin="round" />
<line x1="271.3" y1="420.2" x2="286.2" y2="420.2" stroke="#333" stroke-width="1" />
<text x="927.0" y="177.0" font-size="12.5" fill="#2f6fdc" text-anchor="start" font-weight="bold" textLength="47.0" lengthAdjust="spacingAndGlyphs" >50 EMA</text>
<text x="771.0" y="190.0" font-size="9.5" fill="#333" text-anchor="start" font-weight="normal" textLength="24.0" lengthAdjust="spacingAndGlyphs" >Gbs</text>
<text x="760.0" y="212.5" font-size="9.5" fill="#333" text-anchor="start" font-weight="normal" textLength="21.0" lengthAdjust="spacingAndGlyphs" >bbs</text>
<text x="800.0" y="163.0" font-size="10" fill="#333" text-anchor="start" font-weight="normal" textLength="16.0" lengthAdjust="spacingAndGlyphs" >GAI</text>
<text x="1006.6" y="46.7" font-size="11.5" fill="#3a56b8" text-anchor="start" font-weight="normal" textLength="100.7" lengthAdjust="spacingAndGlyphs" >138.20% (2,486.70)</text>
<text x="1006.6" y="81.9" font-size="11.5" fill="#3a56b8" text-anchor="start" font-weight="normal" textLength="100.7" lengthAdjust="spacingAndGlyphs" >123.60% (2,455.89)</text>
<text x="1006.6" y="137.6" font-size="11.5" fill="#3a56b8" text-anchor="start" font-weight="normal" textLength="100.7" lengthAdjust="spacingAndGlyphs" >100.00% (2,406.09)</text>
<text x="1012.8" y="190.2" font-size="11.5" fill="#3a56b8" text-anchor="start" font-weight="normal" textLength="94.5" lengthAdjust="spacingAndGlyphs" >78.60% (2,360.93)</text>
<text x="1012.8" y="232.4" font-size="11.5" fill="#3a56b8" text-anchor="start" font-weight="normal" textLength="94.5" lengthAdjust="spacingAndGlyphs" >61.80% (2,325.48)</text>
<text x="1012.6" y="261.7" font-size="11.5" fill="#3a56b8" text-anchor="start" font-weight="normal" textLength="94.7" lengthAdjust="spacingAndGlyphs" >50.00% (2,300.59)</text>
<text x="1012.6" y="291.3" font-size="11.5" fill="#3a56b8" text-anchor="start" font-weight="normal" textLength="94.7" lengthAdjust="spacingAndGlyphs" >38.20% (2,275.69)</text>
<text x="1012.6" y="329.0" font-size="11.5" fill="#3a56b8" text-anchor="start" font-weight="normal" textLength="94.7" lengthAdjust="spacingAndGlyphs" >23.60% (2,244.88)</text>
<text x="1018.4" y="390.8" font-size="11.5" fill="#3a56b8" text-anchor="start" font-weight="normal" textLength="88.9" lengthAdjust="spacingAndGlyphs" >0.00% (2,195.08)</text>
<text x="956.4" y="70.5" font-size="11.5" fill="#e5475f" text-anchor="start" font-weight="normal" textLength="131.2" lengthAdjust="spacingAndGlyphs" >$2,484 ATH Jul. 17, 2024</text>
<text x="970.0" y="108.9" font-size="11.5" fill="#d84055" text-anchor="start" font-weight="normal" textLength="75.5" lengthAdjust="spacingAndGlyphs" >$2,450 Lateral</text>
<text x="977.0" y="125.8" font-size="12" fill="#5cae5c" text-anchor="start" font-weight="bold" textLength="46.4" lengthAdjust="spacingAndGlyphs" >GLD 225</text>
<text x="1034.0" y="437.5" font-size="12" fill="#5cae5c" text-anchor="start" font-weight="normal" textLength="46.7" lengthAdjust="spacingAndGlyphs" >GLD 200</text>
<text x="984.0" y="363.4" font-size="12" fill="#2f5fd0" text-anchor="start" font-weight="normal" textLength="117.3" lengthAdjust="spacingAndGlyphs" >Fibonacci Extensions</text>
<text x="984.0" y="375.8" font-size="12" fill="#2f5fd0" text-anchor="start" font-weight="normal" textLength="119.0" lengthAdjust="spacingAndGlyphs" >Off Mar. 8, 2024 High</text>
<line x1="1116.5" y1="4.0" x2="1116.5" y2="837.0" stroke="#50535e" stroke-width="1" />
<text x="1125.3" y="72.0" font-size="11.5" fill="#4a4e5a" text-anchor="start" font-weight="normal" textLength="45.8" lengthAdjust="spacingAndGlyphs" >2,475.00</text>
<text x="1125.3" y="127.8" font-size="11.5" fill="#4a4e5a" text-anchor="start" font-weight="normal" textLength="45.8" lengthAdjust="spacingAndGlyphs" >2,425.00</text>
<text x="1125.3" y="174.0" font-size="11.5" fill="#4a4e5a" text-anchor="start" font-weight="normal" textLength="45.8" lengthAdjust="spacingAndGlyphs" >2,385.00</text>
<text x="1125.3" y="220.8" font-size="11.5" fill="#4a4e5a" text-anchor="start" font-weight="normal" textLength="45.8" lengthAdjust="spacingAndGlyphs" >2,345.00</text>
<text x="1125.3" y="267.3" font-size="11.5" fill="#4a4e5a" text-anchor="start" font-weight="normal" textLength="45.8" lengthAdjust="spacingAndGlyphs" >2,305.00</text>
<text x="1125.3" y="316.6" font-size="11.5" fill="#4a4e5a" text-anchor="start" font-weight="normal" textLength="45.8" lengthAdjust="spacingAndGlyphs" >2,265.00</text>
<text x="1125.3" y="365.1" font-size="11.5" fill="#4a4e5a" text-anchor="start" font-weight="normal" textLength="45.8" lengthAdjust="spacingAndGlyphs" >2,225.00</text>
<text x="1125.3" y="414.6" font-size="11.5" fill="#4a4e5a" text-anchor="start" font-weight="normal" textLength="45.8" lengthAdjust="spacingAndGlyphs" >2,185.00</text>
<text x="1125.3" y="452.4" font-size="11.5" fill="#4a4e5a" text-anchor="start" font-weight="normal" textLength="45.8" lengthAdjust="spacingAndGlyphs" >2,155.00</text>
<text x="1125.3" y="491.8" font-size="11.5" fill="#4a4e5a" text-anchor="start" font-weight="normal" textLength="45.8" lengthAdjust="spacingAndGlyphs" >2,125.00</text>
<text x="1125.3" y="531.0" font-size="11.5" fill="#4a4e5a" text-anchor="start" font-weight="normal" textLength="45.8" lengthAdjust="spacingAndGlyphs" >2,095.00</text>
<text x="1125.3" y="570.7" font-size="11.5" fill="#4a4e5a" text-anchor="start" font-weight="normal" textLength="45.8" lengthAdjust="spacingAndGlyphs" >2,065.00</text>
<text x="1125.3" y="604.4" font-size="11.5" fill="#4a4e5a" text-anchor="start" font-weight="normal" textLength="45.8" lengthAdjust="spacingAndGlyphs" >2,040.00</text>
<text x="1125.3" y="637.1" font-size="11.5" fill="#4a4e5a" text-anchor="start" font-weight="normal" textLength="45.8" lengthAdjust="spacingAndGlyphs" >2,016.00</text>
<text x="1125.3" y="669.4" font-size="11.5" fill="#4a4e5a" text-anchor="start" font-weight="normal" textLength="45.8" lengthAdjust="spacingAndGlyphs" >1,992.00</text>
<text x="1125.3" y="700.2" font-size="11.5" fill="#4a4e5a" text-anchor="start" font-weight="normal" textLength="45.8" lengthAdjust="spacingAndGlyphs" >1,970.00</text>
<text x="1125.3" y="766.6" font-size="11.5" fill="#4a4e5a" text-anchor="start" font-weight="normal" textLength="41.0" lengthAdjust="spacingAndGlyphs" >40.0000</text>
<path d="M1116.5,74.1 H1173.5 Q1176.5,74.1 1176.5,77.1 V101.2 Q1176.5,104.2 1173.5,104.2 H1116.5 Z" fill="#c2181f"/>
<text x="1125.0" y="85.9" font-size="12" fill="#fff" text-anchor="start" font-weight="bold" textLength="46.3" lengthAdjust="spacingAndGlyphs" >2,462.45</text>
<text x="1125.7" y="99.6" font-size="12" fill="#ffe8e8" text-anchor="start" font-weight="bold" textLength="45.6" lengthAdjust="spacingAndGlyphs" >12:04:24</text>
<rect x="1120.5" y="8.5" width="57" height="25" rx="4" fill="#fff" stroke="#e0e3eb"/>
<text x="1124.5" y="25.2" font-size="11.5" fill="#131722" text-anchor="start" font-weight="normal" textLength="21.0" lengthAdjust="spacingAndGlyphs" >USD</text>
<polyline points="1167.0,20.0 1169.5,22.5 1172.0,20.0" stroke="#131722" stroke-width="1.3" fill="none" stroke-linejoin="round" />
<line x1="8.0" y1="725.5" x2="1181.0" y2="725.5" stroke="#d1d4dc" stroke-width="1" />
<line x1="8.0" y1="807.5" x2="1181.0" y2="807.5" stroke="#50535e" stroke-width="1" />
<line x1="8.0" y1="834.5" x2="1181.0" y2="834.5" stroke="#e0e3eb" stroke-width="1" />
<text x="136.2" y="824.6" font-size="11.5" fill="#4a4e5a" text-anchor="middle" font-weight="normal" >Mar</text>
<text x="286.0" y="824.6" font-size="11.5" fill="#4a4e5a" text-anchor="middle" font-weight="normal" >Apr</text>
<text x="442.0" y="824.6" font-size="11.5" fill="#4a4e5a" text-anchor="middle" font-weight="normal" >May</text>
<text x="605.4" y="824.6" font-size="11.5" fill="#4a4e5a" text-anchor="middle" font-weight="normal" >Jun</text>
<text x="748.0" y="824.6" font-size="11.5" fill="#4a4e5a" text-anchor="middle" font-weight="normal" >Jul</text>
<text x="911.3" y="824.6" font-size="11.5" fill="#4a4e5a" text-anchor="middle" font-weight="normal" >Aug</text>
<text x="1067.0" y="824.6" font-size="11.5" fill="#4a4e5a" text-anchor="middle" font-weight="normal" >Sep</text>
<path d="M1143.5,822 L1146.3,817.2 L1151.7,817.2 L1154.5,822 L1151.7,826.8 L1146.3,826.8 Z" fill="none" stroke="#131722" stroke-width="1.2"/>
<circle cx="1149" cy="822" r="1.8" fill="none" stroke="#131722" stroke-width="1.2"/>
<circle cx="25.05" cy="20.05" r="8.8" fill="#eba20a"/>
<path d="M22.9,16 H27.2 L28.3,19.3 H21.8 Z M19.3,20 H24.3 L25,23 H18.3 Z M26,20 H30.9 L31.8,23 H25.3 Z" fill="#fffbe6"/>
<path d="M18.3,23.4 H31.8" stroke="#9a6a00" stroke-width="0.6"/>
<text x="38.5" y="25.6" font-size="14" fill="#4d4f57" text-anchor="start" font-weight="normal" textLength="223.7" lengthAdjust="spacingAndGlyphs" >Gold Spot / U.S. Dollar · 1D · FX</text>
<path d="M280.1,13.9 H292 L288.6,19.9 L292,26 H280.1 Z" fill="#f7525f"/>
<rect x="310.8" y="12.3" width="40.2" height="16" rx="8" fill="#e6f0ee"/>
<path d="M331,12.3 H343 A8,8 0 0 1 343,28.3 H331 Z" fill="#fde4ec"/>
<circle cx="321.7" cy="20.8" r="3.8" fill="#16a085"/>
<text x="339.9" y="25.6" font-size="16" fill="#c0306c" text-anchor="middle" font-weight="normal" >≈</text>
<text x="366.7" y="25.0" font-size="12" fill="#4d4f57" text-anchor="start" font-weight="normal" textLength="8.6" lengthAdjust="spacingAndGlyphs" >O</text>
<text x="375.8" y="25.0" font-size="12" fill="#1f9e8a" text-anchor="start" font-weight="normal" textLength="52.8" lengthAdjust="spacingAndGlyphs" >2,446.27</text>
<text x="433.5" y="25.0" font-size="12" fill="#4d4f57" text-anchor="start" font-weight="normal" textLength="8.4" lengthAdjust="spacingAndGlyphs" >H</text>
<text x="442.4" y="25.0" font-size="12" fill="#1f9e8a" text-anchor="start" font-weight="normal" textLength="51.3" lengthAdjust="spacingAndGlyphs" >2,468.28</text>
<text x="498.8" y="25.0" font-size="12" fill="#4d4f57" text-anchor="start" font-weight="normal" textLength="6.8" lengthAdjust="spacingAndGlyphs" >L</text>
<text x="506.1" y="25.0" font-size="12" fill="#1f9e8a" text-anchor="start" font-weight="normal" textLength="50.6" lengthAdjust="spacingAndGlyphs" >2,434.84</text>
<text x="563.2" y="25.0" font-size="12" fill="#4d4f57" text-anchor="start" font-weight="normal" textLength="8.0" lengthAdjust="spacingAndGlyphs" >C</text>
<text x="571.7" y="25.0" font-size="12" fill="#1f9e8a" text-anchor="start" font-weight="normal" textLength="50.2" lengthAdjust="spacingAndGlyphs" >2,462.45</text>
<text x="629.2" y="25.0" font-size="12" fill="#1f9e8a" text-anchor="start" font-weight="normal" textLength="90.2" lengthAdjust="spacingAndGlyphs" >+16.18 (+0.66%)</text>
<text x="726.5" y="25.0" font-size="12" fill="#4d4f57" text-anchor="start" font-weight="normal" textLength="19.5" lengthAdjust="spacingAndGlyphs" >Vol</text>
<text x="746.5" y="25.0" font-size="12" fill="#1f9e8a" text-anchor="start" font-weight="normal" textLength="42.3" lengthAdjust="spacingAndGlyphs" >229.759</text>
<text x="791.0" y="25.0" font-size="12" fill="#1f9e8a" text-anchor="start" font-weight="normal" textLength="9.2" lengthAdjust="spacingAndGlyphs" >K</text>
<text x="16.4" y="48.6" font-size="12" fill="#4d4f57" text-anchor="start" font-weight="normal" textLength="23.3" lengthAdjust="spacingAndGlyphs" >EMA</text>
<text x="48.1" y="48.6" font-size="12" fill="#4a7ae0" text-anchor="start" font-weight="normal" textLength="50.0" lengthAdjust="spacingAndGlyphs" >2,373.76</text>
<text x="16.4" y="72.6" font-size="12" fill="#4d4f57" text-anchor="start" font-weight="normal" textLength="16.8" lengthAdjust="spacingAndGlyphs" >Vol</text>
<text x="42.0" y="72.6" font-size="12" fill="#1f9e8a" text-anchor="start" font-weight="normal" textLength="43.5" lengthAdjust="spacingAndGlyphs" >229.759</text>
<text x="87.5" y="72.6" font-size="12" fill="#1f9e8a" text-anchor="start" font-weight="normal" textLength="9.4" lengthAdjust="spacingAndGlyphs" >K</text>
<rect x="16.5" y="82.5" width="27.5" height="19.5" rx="3" fill="#fff" stroke="#dfe2ea"/>
<polyline points="26.5,94.5 30.2,90.8 33.9,94.5" stroke="#131722" stroke-width="1.6" fill="none" stroke-linejoin="round" />
<text x="16.3" y="746.8" font-size="12" fill="#4d4f57" text-anchor="start" font-weight="normal" textLength="20.3" lengthAdjust="spacingAndGlyphs" >DMI</text>
<text x="44.7" y="746.8" font-size="12" fill="#131722" text-anchor="start" font-weight="normal" textLength="45.5" lengthAdjust="spacingAndGlyphs" >25.8659</text>
<text x="96.7" y="746.8" font-size="12" fill="#43a047" text-anchor="start" font-weight="normal" textLength="45.6" lengthAdjust="spacingAndGlyphs" >29.6525</text>
<text x="148.8" y="746.8" font-size="12" fill="#e0405a" text-anchor="start" font-weight="normal" textLength="44.3" lengthAdjust="spacingAndGlyphs" >14.7615</text>
<polyline points="148.4,776.0 160.0,766.0 180.3,753.8 208.3,753.0 223.5,756.3 254.0,752.5 300.0,740.3 329.3,730.4 345.5,729.6 384.1,731.3 406.5,751.6 439.0,772.0 466.0,780.0" stroke="#131722" stroke-width="1" fill="none" stroke-linejoin="round" />
<polyline points="133.0,776.0 146.3,761.7 172.7,755.6 178.9,755.6 191.0,761.7 221.5,775.2 235.8,765.8 248.0,769.9 260.0,767.0 268.0,769.0 276.4,763.0 292.7,759.7 300.8,757.7 325.2,760.5 337.4,763.8 349.6,761.7 357.7,767.0 382.1,771.9 398.4,775.2 406.5,778.0 430.9,780.0 439.0,784.1 466.0,786.1" stroke="#43a047" stroke-width="1" fill="none" stroke-linejoin="round" />
<polyline points="138.2,794.3 174.8,799.1 187.0,792.2 215.4,791.0 243.9,795.5 284.6,798.3 325.2,801.6 337.4,797.5 353.7,798.7 384.1,798.3 400.4,786.1 426.8,787.4 437.0,782.1 466.0,786.1" stroke="#e0405a" stroke-width="1" fill="none" stroke-linejoin="round" />
<line x1="7.0" y1="785.0" x2="18.0" y2="784.5" stroke="#43a047" stroke-width="1" />
<line x1="46.0" y1="790.5" x2="57.0" y2="788.5" stroke="#43a047" stroke-width="1" />
<line x1="7.0" y1="789.5" x2="18.0" y2="790.5" stroke="#e0405a" stroke-width="1" />
<g fill="#131722">
<path d="M19.1,778.4 H31.3 V792.6 H24.5 V783 H19.1 Z"/>
<circle cx="36" cy="780.8" r="2.4"/>
<path d="M41.2,778.4 H48.1 L39.7,792.6 H32.9 Z"/>
</g>
<text x="56.5" y="792.6" font-size="19.5" fill="#131722" text-anchor="start" font-weight="bold" textLength="119.6" lengthAdjust="spacingAndGlyphs" >TradingView</text>
<defs><filter id="sh" x="-10%" y="-10%" width="120%" height="120%"><feGaussianBlur stdDeviation="6"/></filter></defs>
<rect x="468" y="302" width="512" height="502" fill="#000" fill-opacity="0.28" filter="url(#sh)"/>
<rect x="465.5" y="298.5" width="510" height="499" fill="#1f1f1f" stroke="#2a6e2a" stroke-width="1.5"/>
<rect x="466" y="299" width="47.5" height="47.2" fill="#2c2c2c"/>
<rect x="466" y="737.5" width="509" height="21" fill="#222224"/>
<rect x="466" y="758.5" width="509" height="38.5" fill="#2a2a2c"/>
<g fill="none" stroke="#f2f2f2" stroke-width="1.2" stroke-linecap="round" stroke-linejoin="round">
<rect x="483.5" y="316.5" width="12" height="12" rx="2"/>
<path d="M485.5,328 L489.5,322.5 L494.5,328"/><path d="M493.5,318 v3 M492,319.5 h3"/>
<path d="M497.5,319 v9.5 a2,2 0 0 1 -2,2 h-9.5"/>
<path d="M666,314.9 H653.5 V330 H660"/><path d="M653.5,328 L659,322 L662,325"/><circle cx="662.5" cy="318" r="1.2"/>
<path d="M661,331 L668.5,323.5 L670,325 L662.5,332.5 H661 Z"/>
<path d="M708.5,321.5 A8,8 0 1 0 704,330"/><path d="M705,326 L704,330.5 L708.5,331.2"/><rect x="699.2" y="321.2" width="3.6" height="3.6"/>
<path d="M733.5,317.5 H748.5 M738.5,317.5 V315.6 H743.5 V317.5 M735.5,317.5 L737,330.9 H745 L746.5,317.5 M739.5,322 V327 M742.5,322 V327"/>
<path d="M855,315.3 H865.1"/><rect x="901" y="310.2" width="9.9" height="9.6"/><path d="M947,310.2 L957.1,320.1 M957.1,310.2 L947,320.1"/>
</g>
<g fill="#f2f2f2"><circle cx="773.5" cy="324.1" r="1.4"/><circle cx="780.9" cy="324.1" r="1.4"/><circle cx="788.6" cy="324.1" r="1.4"/></g>
<text x="534.5" y="327.7" font-size="11.8" fill="#ededed" text-anchor="start" font-weight="normal" textLength="54.9" lengthAdjust="spacingAndGlyphs" >FUTURE_...</text>
<g fill="none" stroke="#f2f2f2" stroke-width="1.2" stroke-linejoin="round">
<rect x="478.5" y="773.5" width="15" height="10" rx="2"/><path d="M478.5,780 H493.5 M481.5,780 V783.5 M484.5,780 V783.5 M487.5,780 V783.5 M490.5,780 V783.5"/>
<circle cx="827.8" cy="777.5" r="5"/><path d="M831.5,781.2 L835,784.7 M825.3,777.5 H830.3 M827.8,775 V780"/>
<rect x="901.5" y="773.5" width="15" height="11" rx="2"/>
<path d="M949,785.5 L961,773.5 M955.5,773.5 H961 V779 M949,780 V785.5 H954.5"/>
</g>
<g fill="none" stroke="#777" stroke-width="1.2"><circle cx="787.8" cy="777.5" r="5"/><path d="M791.5,781.2 L795,784.7 M785.3,777.5 H790.3"/>
<rect x="862" y="773" width="15" height="12" rx="2"/><path d="M864.5,776 v-1 h2 M874.5,776 v-1 h-2 M864.5,782 v1 h2 M874.5,782 v1 h-2"/></g>
<line x1="508.5" y1="768" x2="508.5" y2="791" stroke="#3a3a3a"/><line x1="932.5" y1="768" x2="932.5" y2="791" stroke="#3a3a3a"/>
<text x="904.2" y="782.3" font-size="7.5" fill="#f2f2f2" text-anchor="start" font-weight="bold" textLength="9.5" lengthAdjust="spacingAndGlyphs" >1:1</text>
<text x="736.5" y="784.3" font-size="14" fill="#f2f2f2" text-anchor="start" font-weight="normal" textLength="24.5" lengthAdjust="spacingAndGlyphs" >74%</text>
<rect x="466" y="368" width="509" height="369.5" fill="#fff"/>
<line x1="504.0" y1="670.5" x2="965.6" y2="670.5" stroke="#8a8a8a" stroke-width="1" />
<line x1="504.0" y1="611.5" x2="965.6" y2="611.5" stroke="#8a8a8a" stroke-width="1" />
<line x1="504.0" y1="553.5" x2="965.6" y2="553.5" stroke="#8a8a8a" stroke-width="1" />
<line x1="504.0" y1="494.5" x2="965.6" y2="494.5" stroke="#8a8a8a" stroke-width="1" />
<line x1="504.0" y1="435.5" x2="965.6" y2="435.5" stroke="#8a8a8a" stroke-width="1" />
<line x1="544.5" y1="376.0" x2="544.5" y2="729.0" stroke="#222" stroke-width="1" stroke-dasharray="1.6 1.6" />
<line x1="580.5" y1="376.0" x2="580.5" y2="729.0" stroke="#222" stroke-width="1" stroke-dasharray="1.6 1.6" />
<line x1="619.5" y1="376.0" x2="619.5" y2="729.0" stroke="#222" stroke-width="1" stroke-dasharray="1.6 1.6" />
<line x1="657.5" y1="376.0" x2="657.5" y2="729.0" stroke="#222" stroke-width="1" stroke-dasharray="1.6 1.6" />
<line x1="696.5" y1="376.0" x2="696.5" y2="729.0" stroke="#222" stroke-width="1" stroke-dasharray="1.6 1.6" />
<line x1="735.5" y1="376.0" x2="735.5" y2="729.0" stroke="#222" stroke-width="1" stroke-dasharray="1.6 1.6" />
<line x1="773.5" y1="376.0" x2="773.5" y2="729.0" stroke="#222" stroke-width="1" stroke-dasharray="1.6 1.6" />
<line x1="812.5" y1="376.0" x2="812.5" y2="729.0" stroke="#222" stroke-width="1" stroke-dasharray="1.6 1.6" />
<line x1="851.5" y1="376.0" x2="851.5" y2="729.0" stroke="#222" stroke-width="1" stroke-dasharray="1.6 1.6" />
<line x1="890.5" y1="376.0" x2="890.5" y2="729.0" stroke="#222" stroke-width="1" stroke-dasharray="1.6 1.6" />
<line x1="927.5" y1="376.0" x2="927.5" y2="729.0" stroke="#222" stroke-width="1" stroke-dasharray="1.6 1.6" />
<line x1="503.7" y1="376.5" x2="503.7" y2="730.0" stroke="#111" stroke-width="2" />
<line x1="503.0" y1="729.6" x2="966.0" y2="729.6" stroke="#111" stroke-width="2" />
<line x1="499.5" y1="728.7" x2="503.0" y2="728.7" stroke="#111" stroke-width="1.5" />
<text x="495.5" y="731.9" font-size="9" fill="#111" text-anchor="end" font-weight="bold" >0.0%</text>
<line x1="499.5" y1="670.0" x2="503.0" y2="670.0" stroke="#111" stroke-width="1.5" />
<text x="495.5" y="673.2" font-size="9" fill="#111" text-anchor="end" font-weight="bold" >2.0%</text>
<line x1="499.5" y1="611.3" x2="503.0" y2="611.3" stroke="#111" stroke-width="1.5" />
<text x="495.5" y="614.5" font-size="9" fill="#111" text-anchor="end" font-weight="bold" >4.0%</text>
<line x1="499.5" y1="552.6" x2="503.0" y2="552.6" stroke="#111" stroke-width="1.5" />
<text x="495.5" y="555.8" font-size="9" fill="#111" text-anchor="end" font-weight="bold" >6.0%</text>
<line x1="499.5" y1="493.9" x2="503.0" y2="493.9" stroke="#111" stroke-width="1.5" />
<text x="495.5" y="497.1" font-size="9" fill="#111" text-anchor="end" font-weight="bold" >8.0%</text>
<line x1="499.5" y1="435.2" x2="503.0" y2="435.2" stroke="#111" stroke-width="1.5" />
<text x="495.5" y="438.4" font-size="9" fill="#111" text-anchor="end" font-weight="bold" >10.0%</text>
<line x1="499.5" y1="376.5" x2="503.0" y2="376.5" stroke="#111" stroke-width="1.5" />
<text x="495.5" y="379.7" font-size="9" fill="#111" text-anchor="end" font-weight="bold" >12.0%</text>
<line x1="544.5" y1="729.0" x2="544.5" y2="733.0" stroke="#111" stroke-width="1.2" />
<line x1="580.5" y1="729.0" x2="580.5" y2="733.0" stroke="#111" stroke-width="1.2" />
<line x1="619.5" y1="729.0" x2="619.5" y2="733.0" stroke="#111" stroke-width="1.2" />
<line x1="657.5" y1="729.0" x2="657.5" y2="733.0" stroke="#111" stroke-width="1.2" />
<line x1="696.5" y1="729.0" x2="696.5" y2="733.0" stroke="#111" stroke-width="1.2" />
<line x1="735.5" y1="729.0" x2="735.5" y2="733.0" stroke="#111" stroke-width="1.2" />
<line x1="773.5" y1="729.0" x2="773.5" y2="733.0" stroke="#111" stroke-width="1.2" />
<line x1="812.5" y1="729.0" x2="812.5" y2="733.0" stroke="#111" stroke-width="1.2" />
<line x1="851.5" y1="729.0" x2="851.5" y2="733.0" stroke="#111" stroke-width="1.2" />
<line x1="890.5" y1="729.0" x2="890.5" y2="733.0" stroke="#111" stroke-width="1.2" />
<line x1="927.5" y1="729.0" x2="927.5" y2="733.0" stroke="#111" stroke-width="1.2" />
<text x="506.5" y="718.0" font-size="12.5" fill="#222" text-anchor="start" font-weight="normal" >Jan</text>
<text x="546.0" y="718.0" font-size="12.5" fill="#222" text-anchor="start" font-weight="normal" >Feb</text>
<text x="583.5" y="718.0" font-size="12.5" fill="#222" text-anchor="start" font-weight="normal" >Mar</text>
<text x="621.5" y="718.0" font-size="12.5" fill="#222" text-anchor="start" font-weight="normal" >Apr</text>
<text x="660.5" y="718.0" font-size="12.5" fill="#222" text-anchor="start" font-weight="normal" >May</text>
<text x="699.5" y="718.0" font-size="12.5" fill="#222" text-anchor="start" font-weight="normal" >Jun</text>
<text x="738.0" y="718.0" font-size="12.5" fill="#222" text-anchor="start" font-weight="normal" >Jul</text>
<text x="776.5" y="718.0" font-size="12.5" fill="#222" text-anchor="start" font-weight="normal" >Aug</text>
<text x="816.0" y="718.0" font-size="12.5" fill="#222" text-anchor="start" font-weight="normal" >Sep</text>
<text x="854.0" y="718.0" font-size="12.5" fill="#222" text-anchor="start" font-weight="normal" >Oct</text>
<text x="893.5" y="718.0" font-size="12.5" fill="#222" text-anchor="start" font-weight="normal" >Nov</text>
<text x="931.0" y="718.0" font-size="12.5" fill="#222" text-anchor="start" font-weight="normal" >Dec</text>
<text x="519.4" y="724.5" font-size="8" fill="#222" text-anchor="start" font-weight="normal" textLength="152.8" lengthAdjust="spacingAndGlyphs" font-style="italic">Timeframe:  20-Year range ending 12/31/2023</text>
<text x="664.5" y="679.5" font-size="28.5" fill="#c4c4c4" text-anchor="start" font-weight="bold" textLength="280.6" lengthAdjust="spacingAndGlyphs" >© EquityClock.com</text>
<rect x="523.5" y="377.5" width="199.5" height="23.5" fill="#fff" stroke="#444" stroke-width="1"/>
<text x="529.3" y="394.6" font-size="14.7" fill="#111" text-anchor="start" font-weight="normal" textLength="187.4" lengthAdjust="spacingAndGlyphs" >Gold Futures Seasonality</text>
<polyline points="504.2,728.2 505.2,718.8 506.3,710.4 507.3,706.3 508.4,704.2 509.4,708.3 510.4,705.2 511.5,704.2 512.5,706.3 513.6,709.4 514.6,704.2 515.7,697.9 516.7,691.6 517.8,685.4 518.8,683.3 519.8,682.2 520.9,687.5 521.9,690.6 523.0,691.6 524.0,687.5 525.1,683.3 526.1,684.3 527.2,685.4 528.2,679.1 529.3,674.9 530.3,673.9 531.3,676.0 532.4,672.8 533.4,662.4 534.5,653.0 535.5,649.8 536.6,651.9 537.6,654.0 538.7,656.1 539.7,657.2 540.7,649.8 541.8,641.5 542.8,636.3 543.9,633.1 544.9,639.4 546.0,647.8 547.0,656.1 548.1,660.3 549.1,659.2 550.1,657.2 551.2,657.2 552.2,651.9 553.3,647.8 554.3,642.5 555.4,639.4 556.4,632.1 557.5,626.9 558.5,629.0 559.5,633.1 560.6,627.9 561.6,624.8 562.7,622.7 563.7,619.5 564.8,612.2 565.8,607.0 566.9,609.1 567.9,604.9 569.0,599.7 570.0,596.6 571.0,593.4 572.1,589.3 573.1,588.2 574.2,593.4 575.2,600.7 576.3,603.9 577.3,604.9 578.4,611.2 579.4,615.4 580.4,616.4 581.5,614.3 582.5,616.4 583.6,614.3 584.6,611.2 585.7,609.1 586.7,611.2 587.8,612.2 588.8,614.3 589.8,615.4 590.9,618.5 591.9,620.6 593.0,622.7 594.0,621.6 595.1,624.8 596.1,626.9 597.2,631.0 598.2,629.0 599.2,622.7 600.3,619.5 601.3,617.5 602.4,619.5 603.4,621.6 604.5,620.6 605.5,623.7 606.6,626.9 607.6,622.7 608.7,616.4 609.7,611.2 610.7,609.1 611.8,598.7 612.8,600.7 613.9,604.9 614.9,606.0 616.0,604.9 617.0,604.9 618.1,604.9 619.1,612.2 620.1,610.1 621.2,609.1 622.2,611.2 623.3,608.1 624.3,603.9 625.4,598.7 626.4,591.3 627.5,587.2 628.5,583.0 629.5,578.8 630.6,572.5 631.6,567.3 632.7,569.4 633.7,572.5 634.8,571.5 635.8,575.7 636.9,583.0 637.9,589.3 638.9,591.3 640.8,593.7 642.5,592.0 644.2,589.4 645.9,588.6 647.6,586.9 648.4,592.0 649.3,590.3 651.0,586.0 652.7,581.8 654.4,577.6 655.7,575.0 656.9,582.7 657.7,589.4 658.6,586.9 660.3,583.5 662.0,579.3 663.7,576.7 665.4,578.4 667.1,581.0 668.7,580.1 669.6,581.8 671.3,582.7 673.0,582.7 673.8,584.4 675.5,589.4 677.2,590.3 678.1,594.5 679.8,601.3 680.6,603.0 681.4,599.6 682.3,597.1 683.1,597.9 684.8,595.4 685.7,592.8 686.5,599.6 687.4,596.2 688.2,594.5 689.9,596.2 691.6,595.4 693.3,592.0 694.1,586.0 695.0,584.4 695.8,581.0 696.7,581.8 697.5,583.5 698.4,581.0 699.2,582.7 700.1,581.8 700.9,585.2 701.8,581.8 702.6,581.0 703.5,583.5 705.2,587.7 706.9,592.8 708.5,592.0 710.2,594.5 711.1,598.7 711.9,605.5 712.8,608.9 713.6,611.4 714.5,612.3 715.3,609.8 716.2,606.4 717.0,601.3 717.9,597.1 718.7,593.7 719.6,592.8 720.4,595.4 721.2,598.7 722.1,603.0 722.9,606.4 723.8,610.6 724.6,611.4 725.5,604.7 726.3,600.4 727.2,598.7 728.0,599.6 728.9,601.3 729.7,603.8 730.6,606.4 731.4,608.1 732.3,603.0 733.1,599.6 733.9,597.9 734.8,597.1 735.6,598.7 736.5,599.6 737.3,600.4 738.2,601.3 739.0,602.1 739.9,603.0 740.7,604.7 741.6,606.4 742.4,605.5 743.3,603.0 744.1,599.6 745.0,594.5 745.8,591.1 746.6,586.9 747.5,582.7 748.3,577.6 749.2,573.3 750.0,570.8 750.9,570.8 751.7,570.0 752.6,572.5 753.4,574.2 754.3,578.4 755.1,582.7 756.0,581.0 756.8,580.1 757.7,583.5 758.5,584.4 759.3,581.0 760.0,579.3 763.0,588.4 766.1,586.4 768.1,572.2 770.2,555.9 772.2,545.8 774.2,537.7 776.3,533.6 778.3,531.6 780.3,534.6 782.3,530.5 785.4,523.4 787.4,533.6 789.5,531.6 791.5,543.8 793.5,540.7 795.5,535.6 797.6,534.6 799.6,519.4 801.6,513.3 803.7,526.5 805.7,519.4 807.7,511.3 809.8,516.3 811.8,505.2 813.8,500.1 816.9,499.1 818.9,497.0 820.9,502.1 823.0,507.2 825.0,519.4 827.0,530.5 829.1,528.5 831.1,529.5 833.1,513.3 834.5,498.0 835.6,505.2 836.8,500.1 838.2,507.2 839.6,501.1 841.3,515.3 843.3,519.4 845.3,526.5 847.3,524.5 849.4,527.5 851.4,531.6 853.4,540.7 854.9,549.8 856.5,535.6 858.5,523.4 860.5,519.4 862.6,515.3 864.6,516.3 866.6,504.1 867.7,503.1 870.7,510.2 872.7,512.3 874.8,515.3 876.8,519.4 878.8,532.6 880.9,515.3 882.9,506.2 884.9,505.2 887.0,510.2 889.0,524.5 891.0,509.2 893.0,499.1 894.1,493.0 896.1,488.9 898.7,481.8 900.2,482.8 902.2,489.9 903.2,490.9 904.6,505.2 906.3,488.9 908.3,495.0 910.3,494.0 912.3,497.0 914.4,495.0 916.4,485.9 918.4,481.8 920.5,474.7 922.5,476.7 923.5,483.8 925.5,473.7 927.6,462.5 929.6,450.3 930.6,448.3 932.3,460.5 933.7,467.6 935.1,469.6 936.7,478.8 937.7,482.8 938.8,476.7 940.4,469.6 941.8,478.8 943.8,485.9 945.9,505.2 947.9,493.0 949.9,493.0 952.0,495.0 955.0,497.0 957.0,488.9 959.1,478.8 961.1,462.5 963.1,458.4 965.2,456.4 966.2,453.4" stroke="#4472c4" stroke-width="1.5" fill="none" stroke-linejoin="round" />
<line x1="357.8" y1="122.7" x2="613.7" y2="539.0" stroke="#ff0000" stroke-width="3" />
<polygon points="628.1,563.2 606.9,542.9 620.5,535.2" fill="#ff0000"/>
<line x1="541.4" y1="107.6" x2="655.2" y2="542.9" stroke="#ff0000" stroke-width="3" />
<polygon points="662.5,570.8 648.4,544.6 662.0,541.2" fill="#ff0000"/>
<line x1="678.9" y1="291.0" x2="720.0" y2="562.1" stroke="#ff0000" stroke-width="3" />
<polygon points="724.6,591.1 712.8,563.2 727.2,561.0" fill="#ff0000"/>
<line x1="741.0" y1="282.0" x2="740.5" y2="562.0" stroke="#ff0000" stroke-width="3" />
<polygon points="740.4,590.8 733.6,562.0 747.5,562.0" fill="#ff0000"/>
<line x1="871.7" y1="218.0" x2="779.2" y2="559.8" stroke="#ff0000" stroke-width="3" />
<polygon points="772.0,587.4 772.0,558.1 786.4,561.5" fill="#ff0000"/>
<line x1="226.5" y1="467.0" x2="566.5" y2="624.0" stroke="#ff0000" stroke-width="3" />
<polygon points="592.6,636.0 563.4,630.4 569.7,617.7" fill="#ff0000"/>
<line x1="80.6" y1="662.4" x2="513.8" y2="662.6" stroke="#ff0000" stroke-width="3" />
<polygon points="543.0,662.4 513.8,655.4 513.8,669.8" fill="#ff0000"/>
<polygon points="646.5,291.3 676,281.2 676,297.6" fill="#ff0000"/><polygon points="712.7,286.1 683.5,279.6 683.5,293.6" fill="#ff0000"/>
<line x1="674.0" y1="289.0" x2="686.0" y2="288.0" stroke="#ff0000" stroke-width="4" />
<g fill="#000" fill-opacity="0.085" font-weight="bold">
<text x="0" y="0" font-size="100" transform="translate(267,409) rotate(-24)">@TraderStef</text>
<text x="0" y="0" font-size="112" transform="translate(105.4,604.4) rotate(-23)">www.traderstef.com</text>
</g>
</svg></body></html>
